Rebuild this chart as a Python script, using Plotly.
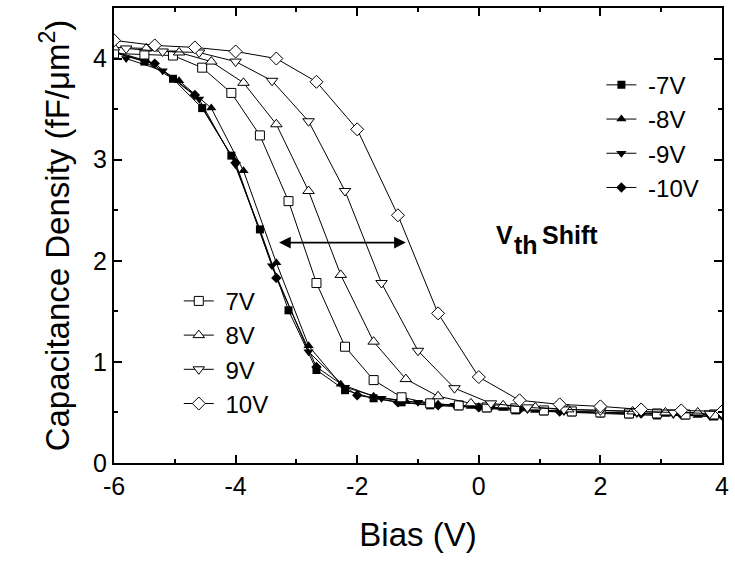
import plotly.graph_objects as go

# ---- data ----
x_7 = [-6.0, -5.5, -5.03, -4.55, -4.07, -3.6, -3.13, -2.67, -2.2, -1.73, -1.27, -0.8, -0.33, 0.13, 0.6, 1.07, 1.53, 2.0, 2.47, 2.93, 3.4, 3.87]
y_n7 = [4.06, 3.97, 3.80, 3.51, 3.04, 2.31, 1.51, 0.92, 0.72, 0.64, 0.60, 0.57, 0.56, 0.54, 0.52, 0.51, 0.50, 0.49, 0.48, 0.47, 0.47, 0.46]
y_p7 = [4.05, 4.04, 4.03, 3.91, 3.66, 3.24, 2.59, 1.78, 1.15, 0.82, 0.65, 0.59, 0.57, 0.55, 0.54, 0.52, 0.51, 0.50, 0.49, 0.49, 0.48, 0.48]

x_8 = [-6.0, -5.47, -4.93, -4.4, -3.87, -3.33, -2.8, -2.27, -1.73, -1.2, -0.67, -0.13, 0.4, 0.93, 1.47, 2.0, 2.53, 3.07, 3.6]
y_n8 = [4.07, 3.98, 3.78, 3.51, 2.89, 1.98, 1.16, 0.78, 0.66, 0.61, 0.58, 0.56, 0.54, 0.52, 0.51, 0.50, 0.49, 0.48, 0.47]
y_p8 = [4.11, 4.10, 4.06, 3.97, 3.76, 3.35, 2.69, 1.86, 1.20, 0.83, 0.66, 0.59, 0.57, 0.55, 0.53, 0.52, 0.51, 0.50, 0.50]

x_9 = [-5.8, -5.2, -4.6, -4.0, -3.4, -2.8, -2.2, -1.6, -1.0, -0.4, 0.2, 0.8, 1.4, 2.0, 2.6, 3.2, 3.8]
y_n9 = [4.00, 3.88, 3.60, 2.95, 1.95, 1.10, 0.75, 0.64, 0.60, 0.57, 0.55, 0.53, 0.51, 0.50, 0.49, 0.48, 0.46]
y_p9 = [4.10, 4.07, 4.06, 3.97, 3.78, 3.38, 2.69, 1.78, 1.11, 0.74, 0.59, 0.55, 0.53, 0.52, 0.51, 0.50, 0.49]

x_10 = [-6.0, -5.33, -4.67, -4.0, -3.33, -2.67, -2.0, -1.33, -0.67, 0.0, 0.67, 1.33, 2.0, 2.67, 3.33, 4.0]
y_n10 = [4.06, 3.95, 3.64, 2.97, 1.83, 0.95, 0.67, 0.60, 0.57, 0.55, 0.53, 0.51, 0.50, 0.49, 0.48, 0.47]
y_p10 = [4.18, 4.13, 4.11, 4.07, 4.00, 3.77, 3.30, 2.45, 1.48, 0.85, 0.62, 0.58, 0.56, 0.53, 0.52, 0.51]

neg_names = ["-7V", "-8V", "-9V", "-10V"]
pos_names = ["7V", "8V", "9V", "10V"]

x_ticks = [-6, -4, -2, 0, 2, 4]
x_tick_text = ["-6", "-4", "-2", "0", "2", "4"]
y_ticks = [0, 1, 2, 3, 4]
y_tick_text = ["0", "1", "2", "3", "4"]

FONT = "Liberation Sans, Arial, sans-serif"

fig = go.Figure()

neg = [(x_7, y_n7, "square", 8), (x_8, y_n8, "triangle-up", 9), (x_9, y_n9, "triangle-down", 9), (x_10, y_n10, "diamond", 8)]
pos = [(x_7, y_p7, "square", 9), (x_8, y_p8, "triangle-up", 10), (x_9, y_p9, "triangle-down", 10), (x_10, y_p10, "diamond", 10)]

for (xs, ys, sym, sz), name in zip(neg, neg_names):
    fig.add_trace(go.Scatter(x=xs, y=ys, name=" " + name, mode="lines+markers",
                             line=dict(color="black", width=1),
                             marker=dict(symbol=sym, size=sz, color="black"),
                             legend="legend"))
for (xs, ys, sym, sz), name in zip(pos, pos_names):
    fig.add_trace(go.Scatter(x=xs, y=ys, name=" " + name, mode="lines+markers",
                             line=dict(color="black", width=1),
                             marker=dict(symbol=sym, size=sz, color="white",
                                         line=dict(color="black", width=1)),
                             legend="legend2"))

# arrow
fig.add_annotation(x=-1.2, y=2.18, ax=-3.31, ay=2.18, xref="x", yref="y", axref="x", ayref="y",
                   text="", showarrow=True, arrowhead=2, arrowside="end+start",
                   arrowsize=1.3, arrowwidth=1.8, arrowcolor="black")

L, R, T, B = 114, 11, 6, 105
W, H = 735, 568
pw, ph = W - L - R, H - T - B

def px_x(p):
    return (p - L) / pw

def px_y(p):
    return (H - B - p) / ph

# V_th Shift label
for txt, xp, yp in [("<b>V</b>", 495, 234), ("<b>th</b>", 513, 244), ("<b>Shift</b>", 541, 234)]:
    fig.add_annotation(x=px_x(xp), y=px_y(yp), xref="paper", yref="paper", text=txt, showarrow=False,
                       font=dict(family=FONT, size=25, color="black"), xanchor="left", yanchor="middle")

axis_common = dict(showline=True, linecolor="black", linewidth=2, mirror="ticks",
                   ticks="inside", ticklen=8, tickwidth=1.5, tickcolor="black",
                   showgrid=False, zeroline=False, tickmode="array",
                   tickfont=dict(family=FONT, size=25, color="black"))

fig.update_xaxes(range=[-6, 4], tickvals=x_ticks, ticktext=x_tick_text, **axis_common,
                 minor=dict(tickmode="linear", tick0=-6, dtick=1, ticks="inside", ticklen=4,
                            tickwidth=1.5, tickcolor="black", showgrid=False),
                 title=dict(text="Bias (V)", font=dict(family=FONT, size=33, color="black"), standoff=24))
fig.update_yaxes(range=[0, 4.5], tickvals=y_ticks, ticktext=y_tick_text, **axis_common,
                 minor=dict(tickmode="linear", tick0=0, dtick=0.5, ticks="inside", ticklen=4,
                            tickwidth=1.5, tickcolor="black", showgrid=False),
                 title=dict(text="Capacitance Density (fF/μm<sup>2</sup>)", font=dict(family=FONT, size=33, color="black"), standoff=14))

fig.update_layout(
    width=W, height=H,
    margin=dict(l=L, r=R, t=T, b=B),
    paper_bgcolor="white", plot_bgcolor="white",
    showlegend=True,
    legend=dict(x=px_x(603), y=px_y(61), xanchor="left", yanchor="top",
                bgcolor="rgba(0,0,0,0)", font=dict(family=FONT, size=24, color="black"),
                tracegroupgap=0),
    legend2=dict(x=px_x(179), y=px_y(278), xanchor="left", yanchor="top",
                 bgcolor="rgba(0,0,0,0)", font=dict(family=FONT, size=24, color="black"),
                 tracegroupgap=0),
)

fig.write_html("out.html")
